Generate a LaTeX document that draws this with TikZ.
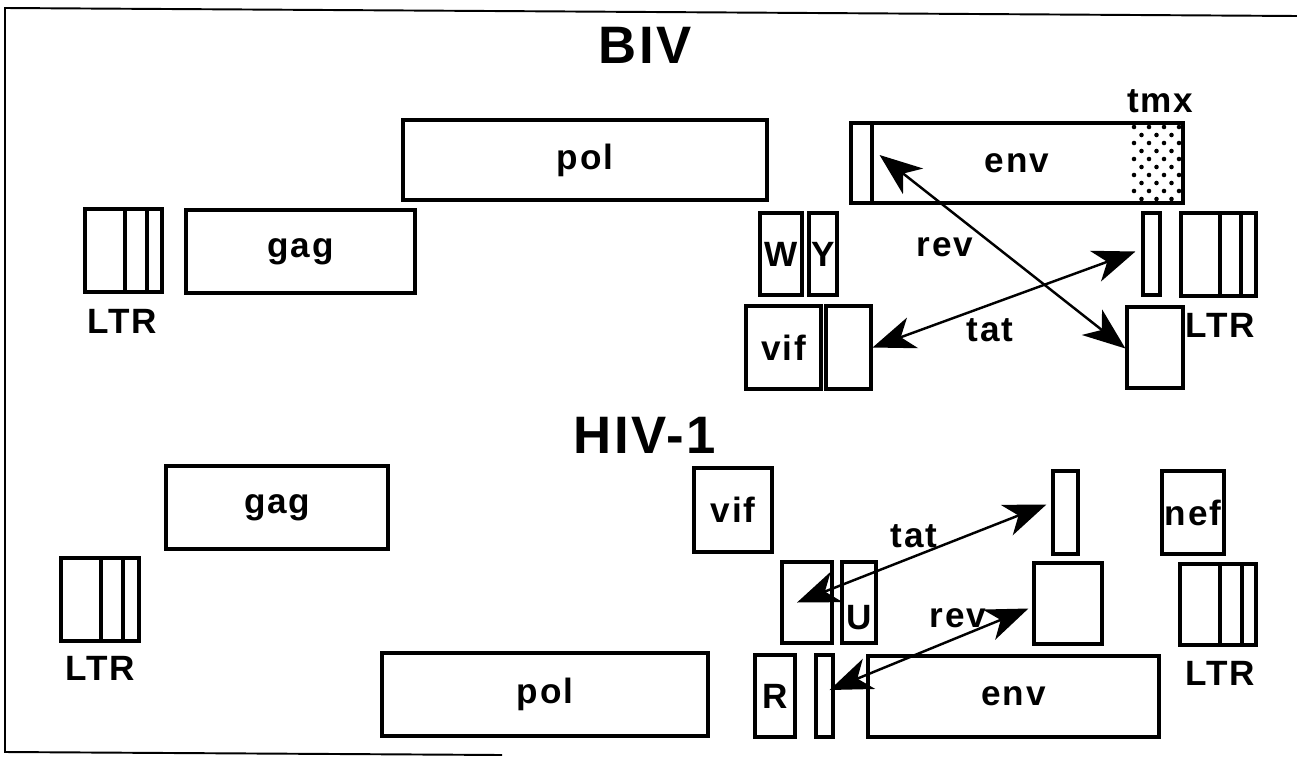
\documentclass[tikz,border=0pt]{standalone}
\usepackage{fontspec}
\setmainfont{Liberation Sans}[LetterSpace=5]
\usepackage{tikz}
\usetikzlibrary{arrows.meta,fit}
\newcommand{\genefont}{\fontsize{20}{22}\selectfont\bfseries}
\newcommand{\virusfont}{\fontsize{30}{32}\selectfont\bfseries}

\begin{document}
\begin{tikzpicture}[x=0.02cm, y=-0.02cm,
    gene/.style={draw, line width=1.8pt, inner sep=0pt},
    genelabel/.style={inner sep=0pt, font=\genefont},
    virus/.style={inner sep=0pt, font=\virusfont},
    splice/.style={line width=1.4pt, {Stealth[length=0.85cm,width=0.65cm,inset=0.25cm]}-{Stealth[length=0.85cm,width=0.65cm,inset=0.25cm]}}
]
\useasboundingbox (0,0) rectangle (1297,764);
\draw[line width=1.1pt] (1297,16) -- (5,8) -- (5,752) -- (502,755);

% BIV
\node[virus] (biv) at (645,45) {BIV};
\node[gene, fit={(85,209) (162,292)}] (ltrA) {};
\draw[line width=1.8pt] (125,209) -- (125,292) (147,209) -- (147,292);
\node[genelabel] at (122,321) {LTR};
\node[gene, fit={(186,210) (415,293)}] (gagA) {};
\node[genelabel] at (gagA) {gag};
\node[gene, fit={(403,120) (767,200)}] (polA) {};
\node[genelabel] at (polA) {pol};
\node[gene, fit={(851,123) (1183,203)}] (envA) {};
\node[genelabel] at (envA) {env};
\node[gene, fit={(851,123) (872,203)}] (revA1) {};
\foreach \j in {0,2,...,8}
  \foreach \i in {0,...,3}
    \fill (1134+15*\i,127+8*\j) circle[radius=1.3pt];
\foreach \j in {1,3,...,9}
  \foreach \i in {0,...,2}
    \fill (1141.5+15*\i,127+8*\j) circle[radius=1.3pt];
\node[genelabel] (tmx) at (1160,101) {tmx};
\node[gene, fit={(760,213) (802,295)}] (wA) {};
\node[genelabel] at (wA) {W};
\node[gene, fit={(809,213) (837,295)}] (yA) {};
\node[genelabel] at (yA) {Y};
\node[gene, fit={(746,306) (821,389)}] (vifA) {};
\node[genelabel] at (vifA) {vif};
\node[gene, fit={(826,306) (871,389)}] (tatA1) {};
\node[gene, fit={(1143,213) (1160,295)}] (tatA2) {};
\node[gene, fit={(1127,307) (1183,388)}] (revA2) {};
\node[gene, fit={(1181,213) (1256,296)}] (ltrB) {};
\draw[line width=1.8pt] (1220,213) -- (1220,296) (1241,213) -- (1241,296);
\node[genelabel] at (1220,325) {LTR};
\draw[splice] ([xshift=0.12cm,yshift=0.16cm]revA1.east) -- ([yshift=-0.02cm]revA2.west);
\draw[splice] (tatA1.east) -- ([xshift=-0.12cm,yshift=0.05cm]tatA2.west);
\node[genelabel] at (945,247) {rev};
\node[genelabel] at (990,330) {tat};

% HIV-1
\node[virus] (hiv) at (645,435) {HIV-1};
\node[gene, fit={(61,558) (139,641)}] (ltrC) {};
\draw[line width=1.8pt] (101,558) -- (101,641) (123,558) -- (123,641);
\node[genelabel] at (100,668) {LTR};
\node[gene, fit={(166,466) (388,549)}] (gagB) {};
\node[genelabel] at (gagB) {gag};
\node[gene, fit={(382,653) (708,736)}] (polB) {};
\node[genelabel] at (polB) {pol};
\node[gene, fit={(694,468) (772,552)}] (vifB) {};
\node[genelabel] at (vifB) {vif};
\node[gene, fit={(782,562) (832,643)}] (tatB1) {};
\node[gene, fit={(842,562) (876,643)}] (uB) {};
\node[genelabel] at ([yshift=-0.3cm]uB) {U};
\node[gene, fit={(755,655) (795,737)}] (rB) {};
\node[genelabel] at (rB) {R};
\node[gene, fit={(816,655) (833,737)}] (revB1) {};
\node[gene, fit={(868,656) (1159,737)}] (envB) {};
\node[genelabel] at (envB) {env};
\node[gene, fit={(1053,471) (1078,554)}] (tatB2) {};
\node[gene, fit={(1034,563) (1102,644)}] (revB2) {};
\node[gene, fit={(1162,471) (1224,554)}] (nefB) {};
\node[genelabel] at (nefB) {nef};
\node[gene, fit={(1180,564) (1256,645)}] (ltrD) {};
\draw[line width=1.8pt] (1220,564) -- (1220,645) (1242,564) -- (1242,645);
\node[genelabel] at (1220,673) {LTR};
\draw[splice] ([xshift=-0.1cm,yshift=0.16cm]tatB2.west) -- ([xshift=-0.2cm]tatB1.center);
\draw[splice] ([xshift=-0.08cm,yshift=-0.1cm]revB2.west) -- ([xshift=-0.1cm,yshift=0.12cm]revB1.east);
\node[genelabel] at (914,536) {tat};
\node[genelabel] at (958,618) {rev};
\end{tikzpicture}
\end{document}
